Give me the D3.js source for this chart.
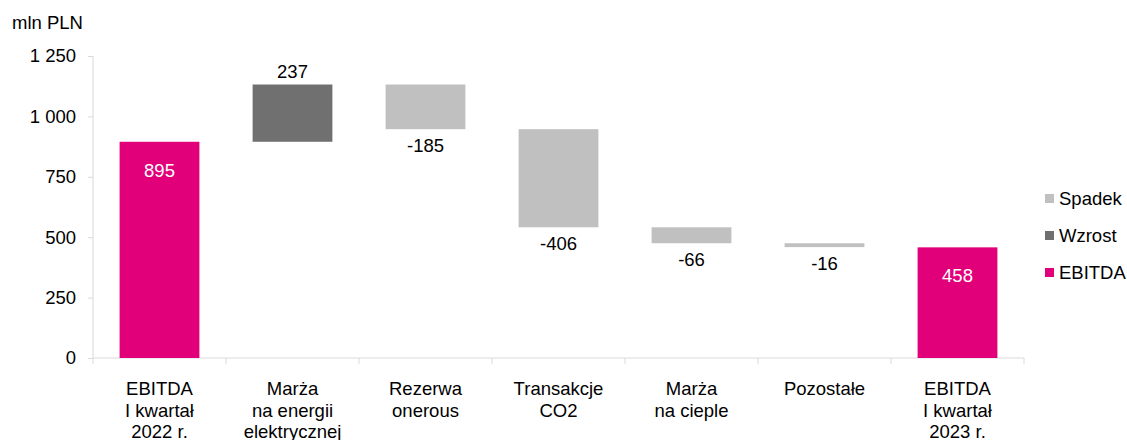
<!DOCTYPE html>
<html><head><meta charset="utf-8">
<script src="https://cdn.jsdelivr.net/npm/d3@7"></script>
<style>body{margin:0;background:#fff;}svg{display:block;font-family:"Liberation Sans",Arial,sans-serif;}</style>
</head><body>
<svg id="c" width="1127" height="440"></svg>
<script>
const categories = [["EBITDA","I kwartał","2022 r."],["Marża","na energii","elektrycznej"],["Rezerwa","onerous"],["Transakcje","CO2"],["Marża","na cieple"],["Pozostałe"],["EBITDA","I kwartał","2023 r."]];
const deltas = [895, 237, -185, -406, -66, -16, 458];
const kinds = ["EBITDA","Wzrost","Spadek","Spadek","Spadek","Spadek","EBITDA"];
const yTicks = [0,250,500,750,1000,1250];
const legendItems = ["Spadek","Wzrost","EBITDA"];
const colors = {EBITDA:"#E2007A", Wzrost:"#707070", Spadek:"#C0C0C0"};

const FS = 18.5;
const svg = d3.select("#c");
const x0 = 93, x1 = 1024, yTop = 56, yBot = 358;
const x = d3.scaleBand().domain(d3.range(categories.length)).range([x0,x1]).paddingInner(0.4).paddingOuter(0.2);
const y = d3.scaleLinear().domain([0,1250]).range([yBot,yTop]);

// compute waterfall
let run = 0;
const bars = deltas.map((d,i)=>{
  let lo, hi;
  if (kinds[i]==="EBITDA") { lo=0; hi=d; run=d; }
  else { const s=run; run=run+d; lo=Math.min(s,run); hi=Math.max(s,run); }
  return {i, d, lo, hi, kind:kinds[i]};
});

// axes
const ya = svg.append("g").attr("transform",`translate(${x0},0)`)
  .call(d3.axisLeft(y).tickValues(yTicks).tickSize(5).tickPadding(12).tickFormat(v=>d3.format(",")(v).replace(/,/g," ")));
ya.select(".domain").attr("stroke","#d9d9d9").attr("d",`M0,${yTop}V${yBot}`);
ya.selectAll(".tick line").attr("stroke","#d9d9d9");
ya.selectAll("text").attr("font-size",FS).attr("fill","#000").attr("font-family","Liberation Sans, Arial, sans-serif");

// x axis baseline and separators
const bounds = d3.range(categories.length+1).map(k=>x0 + k*(x1-x0)/categories.length);
svg.append("line").attr("x1",x0).attr("x2",x1).attr("y1",yBot).attr("y2",yBot).attr("stroke","#d9d9d9");
svg.selectAll(".sep").data(bounds).join("line").attr("x1",d=>d).attr("x2",d=>d).attr("y1",yBot).attr("y2",yBot+6).attr("stroke","#d9d9d9");

// bars
svg.selectAll(".bar").data(bars).join("rect")
  .attr("x",d=>x(d.i)).attr("width",x.bandwidth())
  .attr("y",d=>y(d.hi)).attr("height",d=>y(d.lo)-y(d.hi))
  .attr("fill",d=>colors[d.kind]);

// value labels
svg.selectAll(".vl").data(bars).join("text")
  .attr("x",d=>x(d.i)+x.bandwidth()/2)
  .attr("y",d=> d.kind==="EBITDA" ? y(d.hi)+35 : (d.kind==="Wzrost" ? y(d.hi)-7 : y(d.lo)+23))
  .attr("text-anchor","middle").attr("font-size",FS)
  .attr("fill",d=>d.kind==="EBITDA"?"#fff":"#000")
  .text(d=>d.d);

// category labels
const cl = svg.selectAll(".cl").data(categories).join("text")
  .attr("text-anchor","middle").attr("font-size",FS).attr("fill","#000")
  .attr("transform",(d,i)=>`translate(${x(i)+x.bandwidth()/2},${yBot+37})`);
cl.selectAll("tspan").data(d=>d).join("tspan").attr("x",0).attr("dy",(d,j)=>j===0?0:21.5).text(d=>d);

// unit label
svg.append("text").attr("x",12).attr("y",29).attr("font-size",FS).attr("fill","#000").text("mln PLN");

// legend
const lg = svg.selectAll(".lg").data(legendItems).join("g").attr("transform",(d,i)=>`translate(1045,${198.5+i*37})`);
lg.append("rect").attr("x",0).attr("y",-4.5).attr("width",9).attr("height",9).attr("fill",d=>colors[d]);
lg.append("text").attr("x",14).attr("y",6.5).attr("font-size",FS).attr("fill","#000").text(d=>d);
</script>
</body></html>
